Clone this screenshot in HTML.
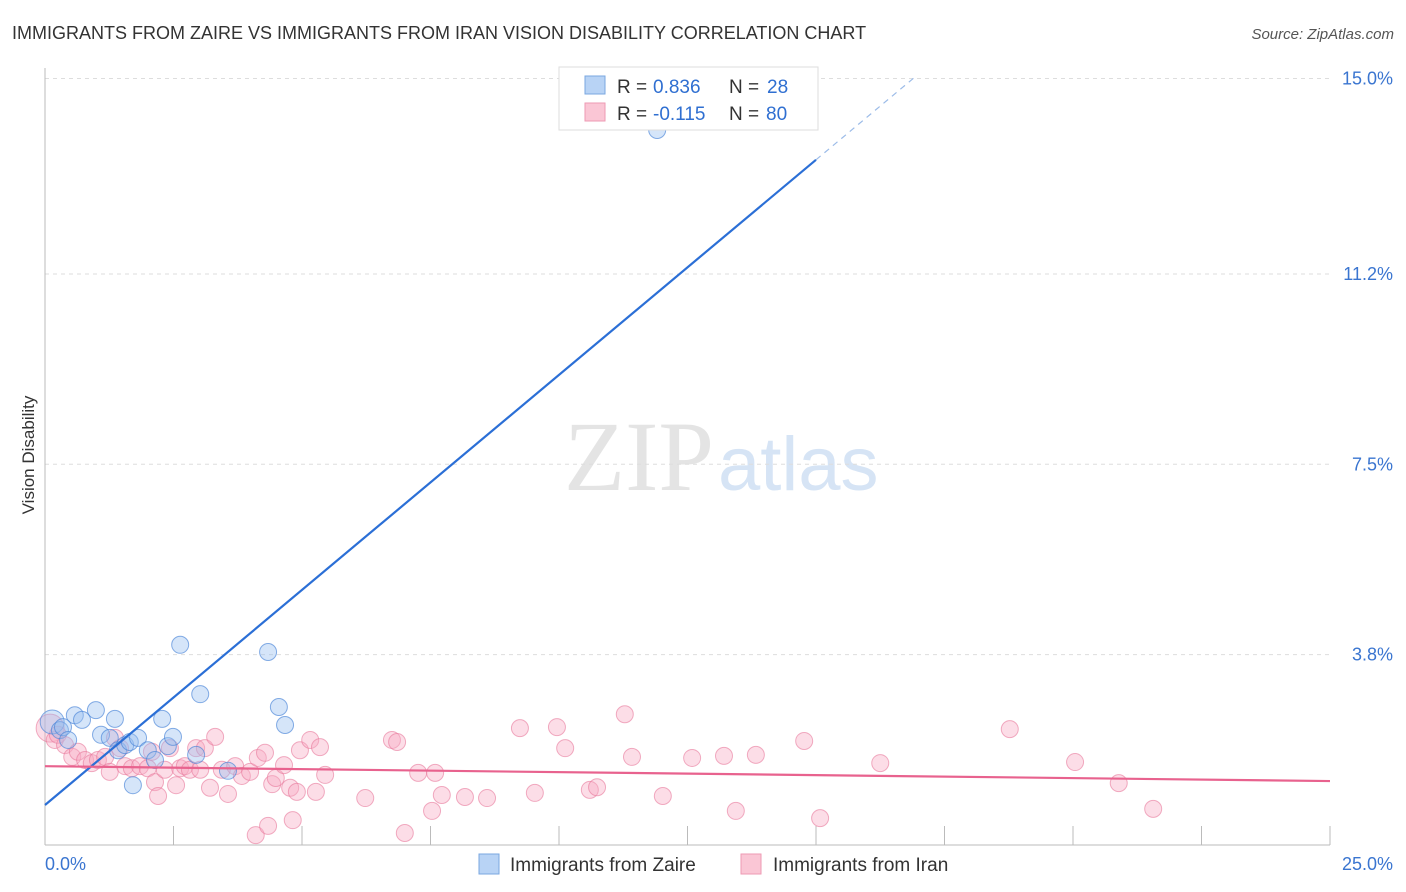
<!DOCTYPE html>
<html><head><meta charset="utf-8"><style>
body{margin:0;background:#fff;font-family:"Liberation Sans",sans-serif;}
svg{display:block}
</style></head><body>
<svg width="1406" height="892" xmlns="http://www.w3.org/2000/svg" font-family="Liberation Sans, sans-serif">
<text x="12" y="39" font-size="18" fill="#333">IMMIGRANTS FROM ZAIRE VS IMMIGRANTS FROM IRAN VISION DISABILITY CORRELATION CHART</text>
<text x="1394" y="39" font-size="15" fill="#555" font-style="italic" text-anchor="end">Source: ZipAtlas.com</text>
<text x="34" y="455" font-size="17" fill="#333" transform="rotate(-90 34 455)" text-anchor="middle">Vision Disability</text>
<text x="714" y="490" font-size="100" fill="#e4e4e4" text-anchor="end" font-family="Liberation Serif, serif">ZIP</text>
<text x="718" y="490" font-size="76" fill="#d6e4f5">atlas</text>
<g id="grid"></g>
<g id="axes"></g>
<g id="pts"></g>
<g id="lines"></g>
<g>
<rect x="559" y="67" width="259" height="63" fill="#fff" stroke="#ddd"/>
<rect x="585" y="76" width="20" height="18" fill="#b8d3f5" stroke="#7aa7e0"/>
<rect x="585" y="103" width="20" height="18" fill="#fac6d5" stroke="#ee9ab3"/>
<text x="617" y="93" font-size="19" fill="#333">R =</text>
<text x="653" y="93" font-size="19" fill="#2f6fd1">0.836</text>
<text x="729" y="93" font-size="19" fill="#333">N =</text>
<text x="767" y="93" font-size="19" fill="#2f6fd1">28</text>
<text x="617" y="120" font-size="19" fill="#333">R =</text>
<text x="653" y="120" font-size="19" fill="#2f6fd1">-0.115</text>
<text x="729" y="120" font-size="19" fill="#333">N =</text>
<text x="766" y="120" font-size="19" fill="#2f6fd1">80</text>
</g>
<g>
<rect x="479" y="854" width="20" height="20" fill="#b8d3f5" stroke="#7aa7e0"/>
<text x="510" y="871" font-size="19" fill="#333">Immigrants from Zaire</text>
<rect x="741" y="854" width="20" height="20" fill="#fac6d5" stroke="#ee9ab3"/>
<text x="773" y="871" font-size="19" fill="#333">Immigrants from Iran</text>
</g>
<script>
const yTicks=[3.8,7.5,11.2,15.0];
const yTickLabels=["3.8%","7.5%","11.2%","15.0%"];
const xTickCount=10;
const zaireX=[0.14,0.29,0.35,0.45,0.58,0.72,0.99,1.09,1.26,1.36,1.42,1.56,1.65,1.71,1.81,2.0,2.14,2.28,2.39,2.49,2.63,2.94,3.02,3.56,4.34,4.55,4.67,11.91];
const zaireY=[2.49,2.33,2.39,2.14,2.62,2.53,2.72,2.24,2.18,2.55,1.94,2.04,2.10,1.26,2.18,1.94,1.75,2.55,2.02,2.20,3.99,1.85,3.03,1.54,3.85,2.78,2.43,14.0];
const iranX=[0.10,0.19,0.25,0.39,0.53,0.64,0.78,0.91,1.03,1.17,1.26,1.36,1.46,1.56,1.69,1.85,2.00,2.08,2.14,2.20,2.33,2.43,2.55,2.63,2.72,2.82,2.94,3.02,3.11,3.21,3.31,3.44,3.56,3.70,3.83,3.99,4.10,4.14,4.28,4.34,4.42,4.49,4.65,4.77,4.82,4.90,4.96,5.16,5.27,5.35,5.45,6.23,6.75,6.85,7.00,7.26,7.53,7.59,7.72,8.17,8.60,9.24,9.53,9.96,10.12,10.60,10.74,11.28,11.42,12.02,12.59,13.21,13.44,13.83,14.77,15.08,16.25,18.77,20.04,20.89,21.56];
const iranY=[2.37,2.14,2.24,2.04,1.81,1.91,1.75,1.69,1.75,1.81,1.52,2.18,1.98,1.63,1.59,1.63,1.59,1.91,1.32,1.05,1.56,1.98,1.26,1.59,1.63,1.56,1.98,1.56,1.98,1.21,2.20,1.56,1.09,1.63,1.44,1.52,0.29,1.79,1.89,0.47,1.28,1.40,1.65,1.21,0.58,1.13,1.94,2.14,1.13,2.00,1.46,1.01,2.14,2.10,0.33,1.50,0.76,1.50,1.07,1.03,1.01,2.37,1.11,2.39,1.98,1.17,1.22,2.64,1.81,1.05,1.79,1.83,0.76,1.85,2.12,0.62,1.69,2.35,1.71,1.30,0.80];
const zaireLine=[0.0,0.875,15.0,13.42];
const iranLine=[0.0,1.63,25.0,1.34];
const X=v=>45+v*51.4, Y=v=>850-v*51.43;
const NS="http://www.w3.org/2000/svg";
function mk(tag,attrs,parent){const e=document.createElementNS(NS,tag);for(const k in attrs)e.setAttribute(k,attrs[k]);document.getElementById(parent).appendChild(e);return e;}
yTicks.forEach((t,i)=>{
 const g=mk('line',{x1:45,x2:1330,y1:Y(t),y2:Y(t),stroke:'#ddd','stroke-dasharray':'4,4'},'grid');
 
 
 const l=mk('text',{x:1393,y:Y(t)+6,'font-size':18,fill:'#3a75d0','text-anchor':'end'},'grid');
 l.textContent=yTickLabels[i];
 
 
});
const ax=mk('line',{x1:45,x2:1330,y1:845,y2:845,stroke:'#bbb'},'axes');


const ay=mk('line',{x1:45,x2:45,y1:68,y2:845,stroke:'#bbb'},'axes');


for(let i=1;i<=xTickCount;i++){
 const t=mk('line',{x1:45+i*128.5,x2:45+i*128.5,y1:826,y2:845,stroke:'#bbb'},'axes');
 
 
}
const xl=mk('text',{x:45,y:870,'font-size':18,fill:'#3a75d0'},'axes');xl.textContent='0.0%';


const xr=mk('text',{x:1393,y:870,'font-size':18,fill:'#3a75d0','text-anchor':'end'},'axes');xr.textContent='25.0%';


iranX.forEach((x,i)=>{
 const c=mk('circle',{cx:X(x),cy:Y(iranY[i]),r:i===0?14:8.5,fill:'rgba(248,170,195,0.4)',stroke:'rgba(232,120,155,0.6)','stroke-width':1},'pts');
 
 
});
zaireX.forEach((x,i)=>{
 const c=mk('circle',{cx:X(x),cy:Y(zaireY[i]),r:i===0?12:8.5,fill:'rgba(150,190,240,0.4)',stroke:'rgba(70,130,215,0.65)','stroke-width':1},'pts');
 
 
});
const slope=(zaireLine[3]-zaireLine[1])/(zaireLine[2]-zaireLine[0]);
const zl=mk('line',{x1:X(zaireLine[0]),y1:Y(zaireLine[1]),x2:X(zaireLine[2]),y2:Y(zaireLine[3]),stroke:'#2b6fd6','stroke-width':2.2},'lines');


const zd=mk('line',{x1:X(zaireLine[2]),y1:Y(zaireLine[3]),x2:X(16.9),y2:Y(zaireLine[1]+slope*16.9),stroke:'#9bbbe8','stroke-width':1.2,'stroke-dasharray':'6,5'},'lines');


const il=mk('line',{x1:X(iranLine[0]),y1:Y(iranLine[1]),x2:X(iranLine[2]),y2:Y(iranLine[3]),stroke:'#e8628e','stroke-width':2.2},'lines');


</script>
</svg>
</body></html>
